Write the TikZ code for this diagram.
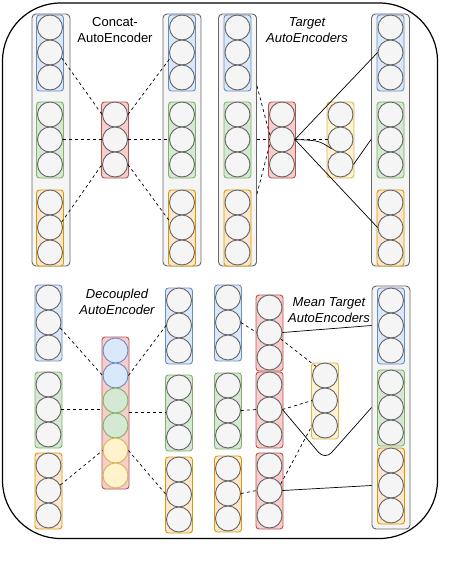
\documentclass[tikz,border=0pt]{standalone}
\usepackage{fontspec}
\setmainfont{Liberation Sans}
\usetikzlibrary{calc}
\definecolor{ink}{HTML}{000000}
\definecolor{unitfill}{HTML}{F5F5F5}
\definecolor{unitline}{HTML}{666666}
\definecolor{bluefill}{HTML}{DAE8FC}
\definecolor{blueline}{HTML}{6C8EBF}
\definecolor{greenfill}{HTML}{D5E8D4}
\definecolor{greenline}{HTML}{82B366}
\definecolor{orangefill}{HTML}{FFE6CC}
\definecolor{orangeline}{HTML}{D79B00}
\definecolor{redfill}{HTML}{F8CECC}
\definecolor{redline}{HTML}{B85450}
\definecolor{yellowfill}{HTML}{FFF2CC}
\definecolor{yellowline}{HTML}{D6B656}
\tikzset{
  unit/.style={circle,draw=unitline,fill=unitfill,line width=0.9pt,minimum size=25pt,inner sep=0pt},
  unitblue/.style={unit,draw=blueline,fill=bluefill},
  unitgreen/.style={unit,draw=greenline,fill=greenfill},
  unityellow/.style={unit,draw=yellowline,fill=yellowfill},
  grp/.style={rounded corners=3pt,line width=0.9pt,inner sep=0pt,minimum width=27pt,minimum height=76pt},
  bluegrp/.style={grp,draw=blueline,fill=bluefill},
  greengrp/.style={grp,draw=greenline,fill=greenfill},
  orangegrp/.style={grp,draw=orangeline,fill=orangefill},
  redgrp/.style={grp,draw=redline,fill=redfill},
  yellowgrp/.style={grp,draw=yellowline,fill=yellowfill},
  column/.style={rounded corners=4pt,draw=unitline,fill=unitfill,line width=0.9pt,inner sep=0pt,minimum width=38pt},
  frame/.style={draw=ink,line width=1.2pt,rounded corners=58pt},
  caption/.style={font=\fontsize{13}{16}\selectfont,align=center,text=ink,inner sep=0pt},
  icaption/.style={caption,font=\fontsize{13}{16}\selectfont\itshape},
  link/.style={draw=ink,line width=0.7pt},
  dlink/.style={link,dash pattern=on 3pt off 3pt}
}
% one layer: group box with three units stacked inside
\newcommand{\layer}[4]{%
  \node[#4] (#1) at (#2,#3+38) {};
  \foreach \k in {1,2,3}{\node[unit] (#1\k) at (#2,#3-12.5+25*\k) {};}}

\begin{document}
\begin{tikzpicture}[x=1pt,y=-1pt]
  \useasboundingbox (0,0) rectangle (448,574);
  \draw[frame] (2.5,3) rectangle (437.5,538.5);

  \node[column,minimum height=252pt] (colA) at (51,140) {};
  \node[column,minimum height=252pt] (colB) at (182,140) {};
  \node[column,minimum height=252pt] (colC) at (237.5,140) {};
  \node[column,minimum height=252pt] (colD) at (390.5,140) {};
  \node[column,minimum height=243pt] (colI) at (391,407.5) {};

  \layer{Ab}{50}{15}{bluegrp} \layer{Ag}{50}{102}{greengrp} \layer{Ao}{50}{190}{orangegrp}
  \layer{Ch}{115}{102}{redgrp}
  \layer{Bb}{182}{15}{bluegrp} \layer{Bg}{182}{102}{greengrp} \layer{Bo}{182}{190}{orangegrp}
  \layer{Cb}{237.5}{15}{bluegrp} \layer{Cg}{237.5}{102}{greengrp} \layer{Co}{237.5}{190}{orangegrp}
  \layer{Th}{282}{102}{redgrp}
  \layer{Ty}{340.5}{102}{yellowgrp}
  \layer{Db}{390.5}{15}{bluegrp} \layer{Dg}{390.5}{102}{greengrp} \layer{Do}{390.5}{190}{orangegrp}

  \layer{Eb}{48.5}{285}{bluegrp} \layer{Eg}{48.5}{372}{greengrp} \layer{Eo}{48.5}{453}{orangegrp}
  \node[redgrp,minimum height=152pt] (Dh) at (115.5,413) {};
  \foreach \k/\s in {1/unitblue,2/unitblue,3/unitgreen,4/unitgreen,5/unityellow,6/unityellow}
    {\node[\s] (Dh\k) at (115.5,413+25*\k-87.5) {};}
  \layer{Fb}{179}{288}{bluegrp} \layer{Fg}{179}{375}{greengrp} \layer{Fo}{179}{457}{orangegrp}
  \layer{Gb}{228}{285}{bluegrp} \layer{Gg}{228}{373}{greengrp} \layer{Go}{228}{456}{orangegrp}
  \layer{Ha}{269.5}{295}{redgrp} \layer{Hb}{269.5}{372}{redgrp} \layer{Hc}{269.5}{453}{redgrp}
  \layer{My}{325}{363}{yellowgrp}
  \layer{Ib}{391}{288}{bluegrp} \layer{Ig}{391}{370}{greengrp} \layer{Io}{391}{448}{orangegrp}

  \node[caption] (capConcat) at (115,30) {Concat-\\AutoEncoder};
  \node[icaption] (capTarget) at (307,30) {Target\\AutoEncoders};
  \node[icaption] (capDecoupled) at (117,302) {Decoupled\\AutoEncoder};
  \node[icaption] (capMean) at (329,310) {Mean Target\\AutoEncoders};

  \draw[dlink] (Ab2.-25) -- (Ch1.west);
  \draw[dlink] (Ag2.east) -- (Ch2.west);
  \draw[dlink] (Ao2.25) -- (Ch3.west);
  \draw[dlink] (Ch1.east) -- (Bb2.205);
  \draw[dlink] (Ch2.east) -- (Bg2.west);
  \draw[dlink] (Ch3.east) -- (Bo2.155);

  \draw[dlink] (Cb3.-40 -| colC.east) -- (Th2.160);
  \draw[dlink] (Cg2.east -| colC.east) -- (Th2.west);
  \draw[dlink] (Co1.40 -| colC.east) -- (Th2.200);
  \draw[dlink] (Th2.east) -- (Ty2.west);
  \draw[link] (Th2.east) -- (Db2.west);
  \draw[link] (Th2.east) -- (Do2.west);
  \draw[link] (Th2.east) .. controls +(24,1) .. (Ty2.south west);
  \draw[link] (Ty3.east) -- (Dg2.west -| colD.west);

  \draw[dlink] (Eb2.-25) -- (Dh2.west);
  \draw[dlink] (Eg2.east) -- (Eg2.east -| Dh.west);
  \draw[dlink] (Eo2.25) -- (Dh5.west);
  \draw[dlink] (Dh2.east) -- (Fb2.west);
  \draw[dlink] (Fg2.west -| Dh.east) -- (Fg2.west);
  \draw[dlink] (Dh5.east) -- (Fo2.west);

  \draw[dlink] (Gb2.east) -- (Ha2.west);
  \draw[dlink] (Gg2.east) -- (Hb2.west);
  \draw[dlink] (Go2.east) -- (Hc2.west);
  \draw[dlink] (Ha2.-30) -- (My1.135);
  \draw[dlink] (Hb2.east) -- (My2.west);
  \draw[dlink] (Hc2.30) -- (My3.west);
  \draw[link] (Ha2.east) -- (Ib2.west -| colI.west);
  \draw[link] (Hc2.east) -- (Io2.west -| colI.west);
  \coordinate (vbot) at (325,460);
  \draw[link,rounded corners=10pt] (Hb2.east) -- (vbot) -- (Ig2.west -| colI.west);
\end{tikzpicture}
\end{document}
